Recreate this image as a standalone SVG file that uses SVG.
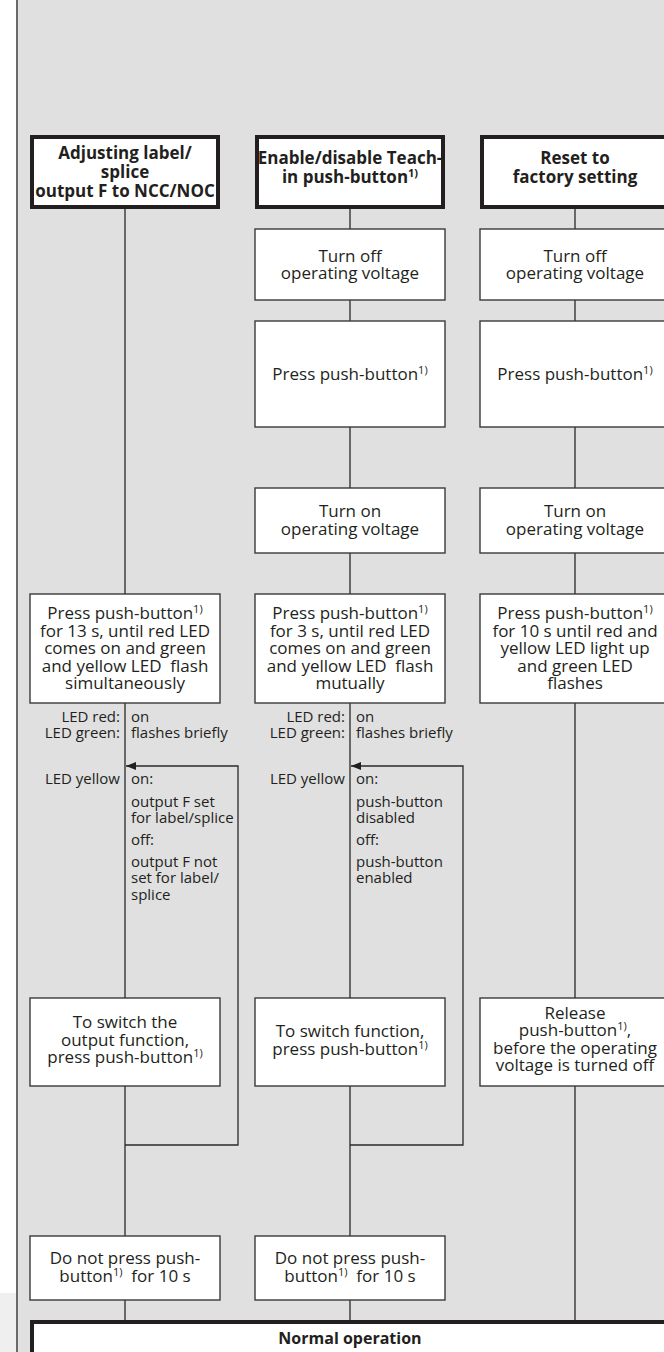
<svg xmlns="http://www.w3.org/2000/svg" width="664" height="1352" viewBox="0 0 664 1352">
<style>
.bg{fill:#e0e0e0}
.hb{fill:#fff;stroke:#231f20;stroke-width:4}
.bx{fill:#fff;stroke:#3a3a3a;stroke-width:1.4}
.ln{fill:none;stroke:#2a2a2a;stroke-width:1.3}
text{font-family:"Open Sans","Noto Sans","DejaVu Sans",sans-serif;fill:#231f20}
.t{font-size:17px;text-anchor:middle}
.h{font-size:17px;font-weight:bold;text-anchor:middle}
.l{font-size:15px}
.r{font-size:15px;text-anchor:end}
.sup{font-size:11px}
</style>
<defs>
<marker id="ah" viewBox="0 0 10 8" refX="10" refY="4" markerWidth="10" markerHeight="8" markerUnits="userSpaceOnUse" orient="auto">
<path d="M0,0 L10,4 L0,8 Z" fill="#231f20"/>
</marker>
</defs>
<rect x="0" y="0" width="664" height="1352" fill="#fff"/>
<rect class="bg" x="17" y="0" width="647" height="1352"/>
<rect x="0" y="1293" width="16" height="59" fill="#efefef"/>
<line x1="17" y1="0" x2="17" y2="1352" stroke="#6a6a6a" stroke-width="2"/>

<g id="connectors">
<path class="ln" d="M125,209 V594 M125,703 V998 M125,1086 V1236 M125,1300 V1320"/>
<path class="ln" d="M125,1145 H238 V766 H126" marker-end="url(#ah)"/>
<path class="ln" d="M350,209 V229 M350,300 V321 M350,427 V488 M350,553 V594 M350,703 V998 M350,1086 V1236 M350,1300 V1320"/>
<path class="ln" d="M350,1145 H463 V766 H351" marker-end="url(#ah)"/>
<path class="ln" d="M575,209 V229 M575,300 V321 M575,427 V488 M575,553 V594 M575,703 V998 M575,1086 V1320"/>
</g>

<g id="h1">
<rect class="hb" x="32" y="137" width="186" height="70"/>
<text class="h" x="125" y="158.5">Adjusting label/</text>
<text class="h" x="125" y="177.5">splice</text>
<text class="h" x="125" y="196.5">output F to NCC/NOC</text>
</g>
<g id="h2">
<rect class="hb" x="257" y="137" width="186" height="70"/>
<text class="h" x="350" y="164">Enable/disable Teach-</text>
<text class="h" x="350" y="183">in push-button<tspan class="sup" dy="-6">1)</tspan></text>
</g>
<g id="h3">
<rect class="hb" x="482" y="137" width="186" height="70"/>
<text class="h" x="575" y="164">Reset to</text>
<text class="h" x="575" y="183">factory setting</text>
</g>

<g id="c2-off">
<rect class="bx" x="255" y="229" width="190" height="71"/>
<text class="t" x="350" y="261.5">Turn off</text>
<text class="t" x="350" y="279">operating voltage</text>
</g>
<g id="c3-off">
<rect class="bx" x="480" y="229" width="190" height="71"/>
<text class="t" x="575" y="261.5">Turn off</text>
<text class="t" x="575" y="279">operating voltage</text>
</g>
<g id="c2-press">
<rect class="bx" x="255" y="321" width="190" height="106"/>
<text class="t" x="350" y="379.5">Press push-button<tspan class="sup" dy="-6">1)</tspan></text>
</g>
<g id="c3-press">
<rect class="bx" x="480" y="321" width="190" height="106"/>
<text class="t" x="575" y="379.5">Press push-button<tspan class="sup" dy="-6">1)</tspan></text>
</g>
<g id="c2-on">
<rect class="bx" x="255" y="488" width="190" height="65"/>
<text class="t" x="350" y="517">Turn on</text>
<text class="t" x="350" y="534.5">operating voltage</text>
</g>
<g id="c3-on">
<rect class="bx" x="480" y="488" width="190" height="65"/>
<text class="t" x="575" y="517">Turn on</text>
<text class="t" x="575" y="534.5">operating voltage</text>
</g>

<g id="c1-hold">
<rect class="bx" x="30" y="594" width="190" height="109"/>
<text class="t" x="125" y="619">Press push-button<tspan class="sup" dy="-6">1)</tspan></text>
<text class="t" x="125" y="636.5">for 13 s, until red LED</text>
<text class="t" x="125" y="654">comes on and green</text>
<text class="t" x="125" y="671.5">and yellow LED&#160; flash</text>
<text class="t" x="125" y="689">simultaneously</text>
</g>
<g id="c2-hold">
<rect class="bx" x="255" y="594" width="190" height="109"/>
<text class="t" x="350" y="619">Press push-button<tspan class="sup" dy="-6">1)</tspan></text>
<text class="t" x="350" y="636.5">for 3 s, until red LED</text>
<text class="t" x="350" y="654">comes on and green</text>
<text class="t" x="350" y="671.5">and yellow LED&#160; flash</text>
<text class="t" x="350" y="689">mutually</text>
</g>
<g id="c3-hold">
<rect class="bx" x="480" y="594" width="190" height="109"/>
<text class="t" x="575" y="619">Press push-button<tspan class="sup" dy="-6">1)</tspan></text>
<text class="t" x="575" y="636.5">for 10 s until red and</text>
<text class="t" x="575" y="654">yellow LED light up</text>
<text class="t" x="575" y="671.5">and green LED</text>
<text class="t" x="575" y="689">flashes</text>
</g>

<g id="c1-led">
<text class="r" x="120" y="722">LED red:</text>
<text class="l" x="131" y="722">on</text>
<text class="r" x="120" y="738">LED green:</text>
<text class="l" x="131" y="738">flashes briefly</text>
<text class="r" x="120" y="784">LED yellow</text>
<text class="l" x="131" y="784">on:</text>
<text class="l" x="131" y="807">output F set</text>
<text class="l" x="131" y="823">for label/splice</text>
<text class="l" x="131" y="845">off:</text>
<text class="l" x="131" y="867">output F not</text>
<text class="l" x="131" y="883">set for label/</text>
<text class="l" x="131" y="900">splice</text>
</g>
<g id="c2-led">
<text class="r" x="345" y="722">LED red:</text>
<text class="l" x="356" y="722">on</text>
<text class="r" x="345" y="738">LED green:</text>
<text class="l" x="356" y="738">flashes briefly</text>
<text class="r" x="345" y="784">LED yellow</text>
<text class="l" x="356" y="784">on:</text>
<text class="l" x="356" y="807">push-button</text>
<text class="l" x="356" y="823">disabled</text>
<text class="l" x="356" y="845">off:</text>
<text class="l" x="356" y="867">push-button</text>
<text class="l" x="356" y="883">enabled</text>
</g>

<g id="c1-switch">
<rect class="bx" x="30" y="998" width="190" height="88"/>
<text class="t" x="125" y="1028">To switch the</text>
<text class="t" x="125" y="1045.5">output function,</text>
<text class="t" x="125" y="1063">press push-button<tspan class="sup" dy="-6">1)</tspan></text>
</g>
<g id="c2-switch">
<rect class="bx" x="255" y="998" width="190" height="88"/>
<text class="t" x="350" y="1037">To switch function,</text>
<text class="t" x="350" y="1054.5">press push-button<tspan class="sup" dy="-6">1)</tspan></text>
</g>
<g id="c3-release">
<rect class="bx" x="480" y="998" width="190" height="88"/>
<text class="t" x="575" y="1018.5">Release</text>
<text class="t" x="575" y="1036">push-button<tspan class="sup" dy="-6">1)</tspan><tspan dy="6">,</tspan></text>
<text class="t" x="575" y="1053.5">before the operating</text>
<text class="t" x="575" y="1071">voltage is turned off</text>
</g>

<g id="c1-wait">
<rect class="bx" x="30" y="1236" width="190" height="64"/>
<text class="t" x="125" y="1264">Do not press push-</text>
<text class="t" x="125" y="1282">button<tspan class="sup" dy="-6">1)</tspan><tspan dy="6">&#160; for 10 s</tspan></text>
</g>
<g id="c2-wait">
<rect class="bx" x="255" y="1236" width="190" height="64"/>
<text class="t" x="350" y="1264">Do not press push-</text>
<text class="t" x="350" y="1282">button<tspan class="sup" dy="-6">1)</tspan><tspan dy="6">&#160; for 10 s</tspan></text>
</g>

<g id="normal">
<rect class="hb" x="32" y="1322" width="650" height="60"/>
<text class="h" x="350" y="1344" style="font-size:16px">Normal operation</text>
</g>
</svg>
